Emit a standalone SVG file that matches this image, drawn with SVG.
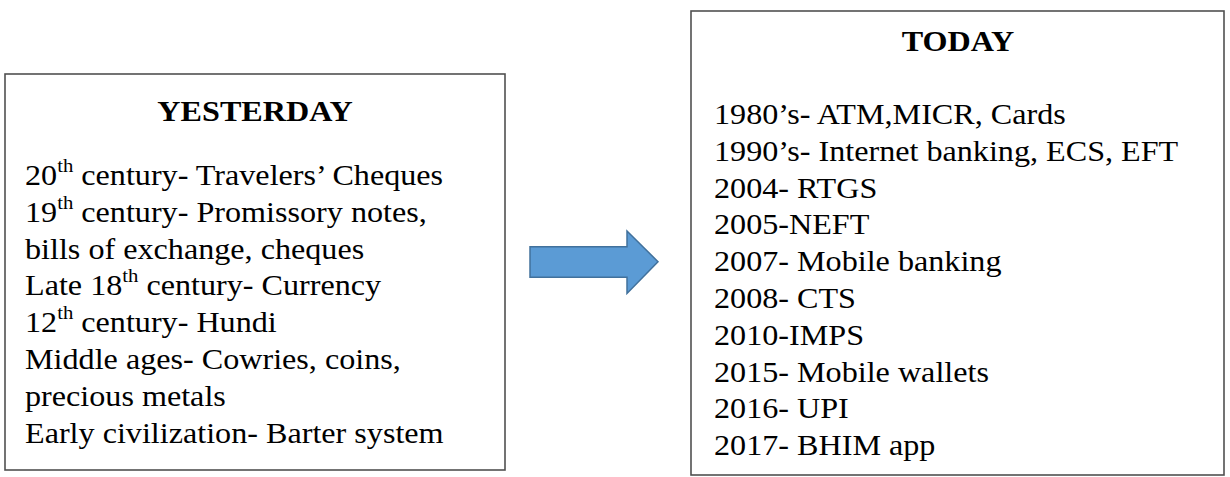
<svg xmlns="http://www.w3.org/2000/svg" width="1230" height="477" viewBox="0 0 1230 477">
<style>
.box{fill:#fff;stroke:#505050;stroke-width:1.6}
text{font-family:'Liberation Serif','Times New Roman',serif;font-size:29.5px;fill:#000}
.h{font-weight:bold;text-anchor:middle}
.sup{font-size:19px}
.arrow{fill:#5B9BD5;stroke:#41719C;stroke-width:1.5}
</style>
<rect width="1230" height="477" fill="#fff"/>
<g id="yesterday">
<rect class="box" x="5" y="74" width="500" height="396"/>
<text class="h" transform="translate(255,121) scale(1.09,1)">YESTERDAY</text>
<text transform="translate(25,185) scale(1.09,1)">20<tspan class="sup" dy="-13">th</tspan><tspan dy="13"> century- Travelers’ Cheques</tspan></text>
<text transform="translate(25,221.8) scale(1.09,1)">19<tspan class="sup" dy="-13">th</tspan><tspan dy="13"> century- Promissory notes,</tspan></text>
<text transform="translate(25,258.6) scale(1.09,1)">bills of exchange, cheques</text>
<text transform="translate(25,295.4) scale(1.09,1)">Late 18<tspan class="sup" dy="-13">th</tspan><tspan dy="13"> century- Currency</tspan></text>
<text transform="translate(25,332.2) scale(1.09,1)">12<tspan class="sup" dy="-13">th</tspan><tspan dy="13"> century- Hundi</tspan></text>
<text transform="translate(25,369) scale(1.09,1)">Middle ages- Cowries, coins,</text>
<text transform="translate(25,405.8) scale(1.09,1)">precious metals</text>
<text transform="translate(25,442.6) scale(1.09,1)">Early civilization- Barter system</text>
</g>
<g id="connectors">
<path class="arrow" d="M530,246.7 H627 V231 L658,261.7 L627,293.5 V277.3 H530 Z"/>
</g>
<g id="today">
<rect class="box" x="691" y="11" width="533" height="464"/>
<text class="h" transform="translate(958,51) scale(1.09,1)">TODAY</text>
<text transform="translate(714,124) scale(1.09,1)">1980’s- ATM,MICR, Cards</text>
<text transform="translate(714,160.8) scale(1.09,1)">1990’s- Internet banking, ECS, EFT</text>
<text transform="translate(714,197.6) scale(1.09,1)">2004- RTGS</text>
<text transform="translate(714,234.4) scale(1.09,1)">2005-NEFT</text>
<text transform="translate(714,271.2) scale(1.09,1)">2007- Mobile banking</text>
<text transform="translate(714,308) scale(1.09,1)">2008- CTS</text>
<text transform="translate(714,344.8) scale(1.09,1)">2010-IMPS</text>
<text transform="translate(714,381.6) scale(1.09,1)">2015- Mobile wallets</text>
<text transform="translate(714,418.4) scale(1.09,1)">2016- UPI</text>
<text transform="translate(714,455.2) scale(1.09,1)">2017- BHIM app</text>
</g>
</svg>
